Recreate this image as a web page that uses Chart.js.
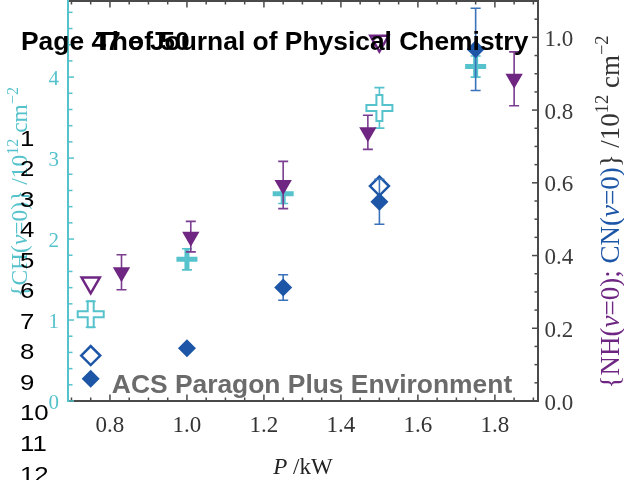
<!DOCTYPE html>
<html>
<head>
<meta charset="utf-8">
<script src="https://cdn.jsdelivr.net/npm/chart.js@4/dist/chart.umd.min.js"></script>
<style>
  html, body { margin: 0; padding: 0; background: #fff; }
  canvas { display: block; }
</style>
</head>
<body>
<canvas id="c" width="624" height="480"></canvas>
<script>
// Column densities vs. discharge power
const chOpenP   = [0.75, 1.5];
const chOpenVal = [1.07, 3.62];
const chOpenErr = [0.16, 0.25];
const chP   = [1.0, 1.25, 1.75];
const chVal = [1.75, 2.56, 4.13];
const chErr = [0.13, 0.12, 0.13];

const nhOpenP   = [0.75, 1.5];
const nhOpenVal = [0.325, 0.99];
const nhP   = [0.83, 1.01, 1.25, 1.47, 1.85];
const nhVal = [0.354, 0.452, 0.594, 0.739, 0.886];
const nhErr = [0.048, 0.042, 0.065, 0.047, 0.074];

const cnOpenP   = [0.75, 1.5];
const cnOpenVal = [0.125, 0.591];
const cnP   = [0.75, 1.0, 1.25, 1.5, 1.75];
const cnVal = [0.061, 0.145, 0.312, 0.548, 0.967];
const cnErr = [0, 0, 0.035, 0.062, 0.113];

const xTicks  = [0.8, 1.0, 1.2, 1.4, 1.6, 1.8];
const chTicks = [0, 1, 2, 3, 4];
const rTicks  = [0.0, 0.2, 0.4, 0.6, 0.8, 1.0];
const lineNumbers = ['1','2','3','4','5','6','7','8','9','10','11','12'];

const TEAL = '#55c2cc', PURPLE = '#6e2682', BLUE = '#1d56a6', AXIS = '#4a4a4a';

const pts = (xs, ys) => xs.map((x, i) => ({ x: x, y: ys[i] }));

// error bars drawn just before each dataset's markers
const errorBars = {
  id: 'errorBars',
  beforeDatasetDraw(chart, args) {
    const ds = chart.data.datasets[args.index];
    if (!ds.errors) return;
    const ys = chart.scales[ds.yAxisID];
    const ctx = chart.ctx;
    ctx.save();
    ctx.strokeStyle = ds.errorColor;
    ctx.lineWidth = 1.6;
    args.meta.data.forEach((pt, i) => {
      const e = ds.errors[i];
      if (!e) return;
      const v = ds.data[i].y;
      const yt = ys.getPixelForValue(v + e), yb = ys.getPixelForValue(v - e);
      const x = pt.x;
      ctx.beginPath();
      ctx.moveTo(x, yt); ctx.lineTo(x, yb);
      ctx.moveTo(x - 5, yt); ctx.lineTo(x + 5, yt);
      ctx.moveTo(x - 5, yb); ctx.lineTo(x + 5, yb);
      ctx.stroke();
    });
    ctx.restore();
  }
};

// inward tick marks on all four sides, plus the tick labels
function tickValues(min, max, step) {
  const out = [];
  for (let i = Math.ceil(min / step - 1e-9); i <= Math.floor(max / step + 1e-9); i++) out.push(+(i * step).toFixed(4));
  return out;
}
const axisDecor = {
  id: 'axisDecor',
  beforeDatasetsDraw(chart) {
    const ctx = chart.ctx, a = chart.chartArea;
    const sx = chart.scales.x, yl = chart.scales.yL, yr = chart.scales.yR;
    ctx.save();
    ctx.lineWidth = 1.5;
    ctx.strokeStyle = AXIS;
    tickValues(sx.min, sx.max, 0.05).forEach(v => {
      const major = xTicks.some(t => Math.abs(t - v) < 1e-6);
      const len = major ? 6.5 : 3.5;
      const px = sx.getPixelForValue(v);
      ctx.beginPath();
      ctx.moveTo(px, a.bottom); ctx.lineTo(px, a.bottom - len);
      ctx.moveTo(px, a.top); ctx.lineTo(px, a.top + len);
      ctx.stroke();
    });
    tickValues(yr.min, yr.max, 0.05).forEach(v => {
      const major = rTicks.some(t => Math.abs(t - v) < 1e-6);
      const len = major ? 6 : 3.5;
      const py = yr.getPixelForValue(v);
      ctx.beginPath(); ctx.moveTo(a.right, py); ctx.lineTo(a.right - len, py); ctx.stroke();
    });
    ctx.strokeStyle = TEAL;
    tickValues(yl.min, yl.max, 0.2).forEach(v => {
      const major = chTicks.some(t => Math.abs(t - v) < 1e-6);
      const len = major ? 6 : 4.5;
      const py = yl.getPixelForValue(v);
      ctx.beginPath(); ctx.moveTo(a.left, py); ctx.lineTo(a.left + len, py); ctx.stroke();
    });

    // tick labels
    ctx.textBaseline = 'alphabetic';
    ctx.font = '23px "Liberation Serif"';
    ctx.fillStyle = '#333333';
    ctx.textAlign = 'center';
    xTicks.forEach(v => ctx.fillText(v.toFixed(1), sx.getPixelForValue(v), a.bottom + 30.5));
    ctx.textAlign = 'left';
    ctx.fillStyle = '#3a3a3a';
    rTicks.forEach(v => ctx.fillText(v.toFixed(1), a.right + 6.5, yr.getPixelForValue(v) + 8.5));
    ctx.font = '21px "Liberation Serif"';
    ctx.fillStyle = TEAL;
    ctx.textAlign = 'right';
    chTicks.forEach(v => ctx.fillText(String(v), a.left - 9, yl.getPixelForValue(v) + 7.5));
    ctx.restore();
  }
};

// rich text (italics, superscripts, colours) for the axis titles
function segFont(s, size) {
  const fs = s.sup ? size * 0.68 : size;
  return (s.it ? 'italic ' : '') + fs + 'px "Liberation Serif"';
}
function drawRich(ctx, segs, size, cx, cy, rot) {
  ctx.save();
  let w = 0;
  segs.forEach(s => { ctx.font = segFont(s, size); w += ctx.measureText(s.t).width; });
  ctx.translate(cx, cy);
  ctx.rotate(rot);
  ctx.textAlign = 'left';
  ctx.textBaseline = 'alphabetic';
  let x = -w / 2;
  segs.forEach(s => {
    ctx.font = segFont(s, size);
    ctx.fillStyle = s.c;
    ctx.fillText(s.t, x, s.sup ? -size * 0.4 : 0);
    x += ctx.measureText(s.t).width;
  });
  ctx.restore();
}

const overlays = {
  id: 'overlays',
  afterDraw(chart) {
    const ctx = chart.ctx;
    const DK = '#333333';
    drawRich(ctx, [
      { t: '{CH(', c: TEAL }, { t: 'v', c: TEAL, it: true }, { t: '=0)} /10', c: TEAL },
      { t: '12', c: TEAL, sup: true }, { t: ' cm', c: TEAL }, { t: '\u22122', c: TEAL, sup: true }
    ], 23.5, 27, 192, -Math.PI / 2);
    drawRich(ctx, [
      { t: '{NH(', c: PURPLE }, { t: 'v', c: PURPLE, it: true }, { t: '=0);', c: PURPLE },
      { t: ' CN(', c: BLUE }, { t: 'v', c: BLUE, it: true }, { t: '=0)', c: BLUE },
      { t: '} /10', c: DK }, { t: '12', c: DK, sup: true }, { t: ' cm', c: DK }, { t: '\u22122', c: DK, sup: true }
    ], 27, 619, 212, -Math.PI / 2);
    drawRich(ctx, [
      { t: 'P', c: '#222', it: true }, { t: ' /kW', c: '#222' }
    ], 23, 303, 474, 0);

    ctx.save();
    ctx.fillStyle = '#000';
    ctx.textBaseline = 'alphabetic';
    ctx.font = 'bold 26.4px "Liberation Sans"';
    ctx.textAlign = 'left';
    ctx.fillText('Page 47 of 50', 21, 50);
    ctx.textAlign = 'center';
    ctx.fillText('The Journal of Physical Chemistry', 312, 50);
    ctx.fillStyle = '#6b6b6b';
    ctx.fillText('ACS Paragon Plus Environment', 312, 393);
    ctx.fillStyle = '#000';
    ctx.textAlign = 'left';
    ctx.font = '21.5px "Liberation Sans"';
    lineNumbers.forEach((s, i) => {
      ctx.save();
      ctx.translate(20, 145.5 + i * 30.55);
      ctx.scale(1.2, 1);
      ctx.fillText(s, 0, 0);
      ctx.restore();
    });
    ctx.restore();
  }
};

const fixBox = (w, h) => s => {
  if (w !== null) s.width = w;
  if (h !== null) s.height = h;
};
const plainAxis = (pos, min, max, color, w, h) => ({
  type: 'linear', position: pos, min: min, max: max,
  grid: { display: false, drawTicks: false },
  border: { display: true, color: color, width: 2 },
  ticks: { display: false },
  afterFit: fixBox(w, h)
});

new Chart(document.getElementById('c'), {
  type: 'scatter',
  data: {
    datasets: [
      { data: pts(chOpenP, chOpenVal), yAxisID: 'yL', order: 7, pointStyle: 'cross', pointRadius: 14,
        borderWidth: 8, borderColor: TEAL, errors: chOpenErr, errorColor: TEAL },
      { data: pts(chOpenP, chOpenVal), yAxisID: 'yL', order: 6, pointStyle: 'cross', pointRadius: 12,
        borderWidth: 4, borderColor: '#ffffff' },
      { data: pts(chP, chVal), yAxisID: 'yL', order: 5, pointStyle: 'cross', pointRadius: 10.5,
        borderWidth: 5, borderColor: TEAL, errors: chErr, errorColor: TEAL },
      { data: pts(nhOpenP, nhOpenVal), yAxisID: 'yR', order: 4, pointStyle: 'triangle', rotation: 180,
        pointRadius: 10.5, borderWidth: 2.5, borderColor: PURPLE, backgroundColor: '#ffffff' },
      { data: pts(nhP, nhVal), yAxisID: 'yR', order: 3, pointStyle: 'triangle', rotation: 180,
        pointRadius: 10, borderWidth: 0, backgroundColor: PURPLE, errors: nhErr, errorColor: '#7a3d90' },
      { data: pts(cnOpenP, cnOpenVal), yAxisID: 'yR', order: 2, pointStyle: 'rectRot',
        pointRadius: 9.5, borderWidth: 2.5, borderColor: BLUE, backgroundColor: '#ffffff' },
      { data: pts(cnP, cnVal), yAxisID: 'yR', order: 1, pointStyle: 'rectRot',
        pointRadius: 9, borderWidth: 0, backgroundColor: BLUE, errors: cnErr, errorColor: '#3a72bb' }
    ]
  },
  options: {
    responsive: false,
    animation: false,
    devicePixelRatio: 1,
    layout: { autoPadding: false, padding: { top: 1, left: 0, right: 0, bottom: 0 } },
    plugins: { legend: { display: false }, tooltip: { enabled: false } },
    scales: {
      x:    plainAxis('bottom', 0.691, 1.912, AXIS, null, 79),
      xTop: plainAxis('top', 0.691, 1.912, AXIS, null, 0),
      yL:   plainAxis('left', 0, 4.94, TEAL, 68, null),
      yR:   plainAxis('right', 0, 1.10, AXIS, 86, null)
    }
  },
  plugins: [errorBars, axisDecor, overlays]
});
</script>
</body>
</html>
